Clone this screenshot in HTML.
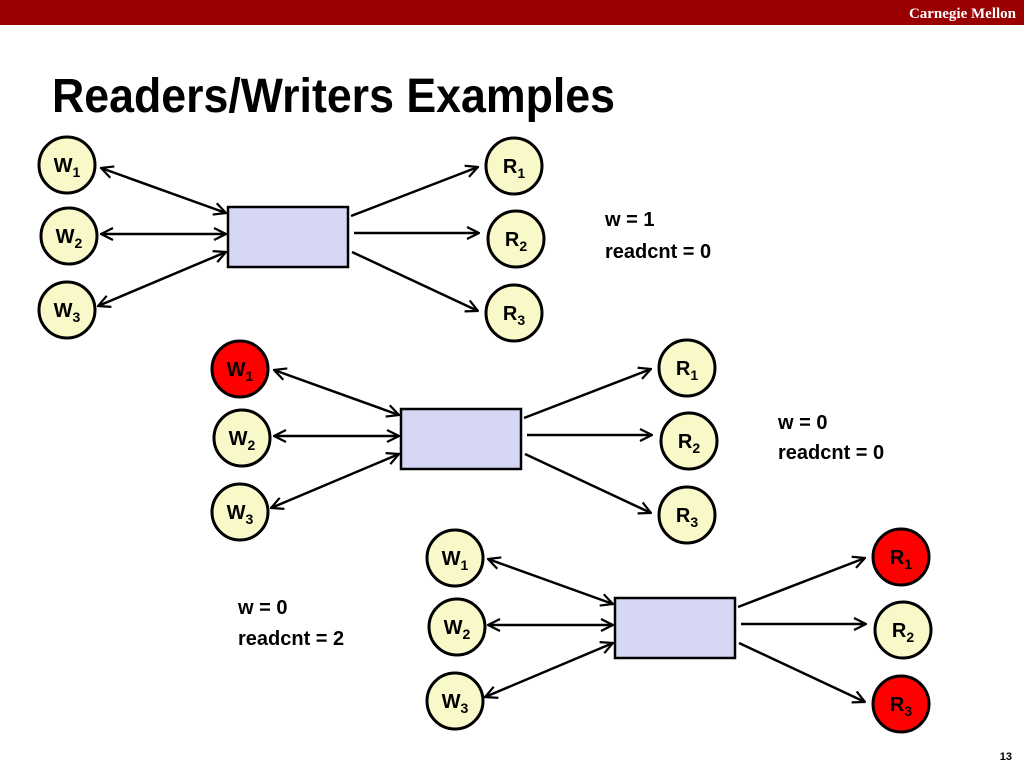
<!DOCTYPE html>
<html><head><style>
body{margin:0;width:1024px;height:768px;overflow:hidden;background:#fff;font-family:"Liberation Sans",sans-serif;}
</style></head><body>
<svg width="1024" height="768" xmlns="http://www.w3.org/2000/svg" style="position:absolute;left:0;top:0">
<defs>
<marker id="a" viewBox="0 0 14 14" refX="13" refY="7" markerWidth="14" markerHeight="14" markerUnits="userSpaceOnUse" orient="auto-start-reverse">
<path d="M1,1 L13,7 L1,13" fill="none" stroke="#000" stroke-width="2.2"/></marker>
<g id="grp">
<line x1="101" y1="168" x2="226" y2="213" stroke="#000" stroke-width="2.5" marker-start="url(#a)" marker-end="url(#a)"/>
<line x1="101" y1="234" x2="226" y2="234" stroke="#000" stroke-width="2.5" marker-start="url(#a)" marker-end="url(#a)"/>
<line x1="98" y1="306" x2="226" y2="252" stroke="#000" stroke-width="2.5" marker-start="url(#a)" marker-end="url(#a)"/>
<line x1="351" y1="216" x2="478" y2="167" stroke="#000" stroke-width="2.5" marker-end="url(#a)"/>
<line x1="354" y1="233" x2="479" y2="233" stroke="#000" stroke-width="2.5" marker-end="url(#a)"/>
<line x1="352" y1="252" x2="478" y2="311" stroke="#000" stroke-width="2.5" marker-end="url(#a)"/>
<rect x="228" y="207" width="120" height="60" fill="#d6d6f5" stroke="#000" stroke-width="2.5"/>
</g>
</defs>
<rect x="0" y="0" width="1024" height="25" fill="#990000"/>
<text x="1016" y="18" text-anchor="end" font-family="Liberation Serif,serif" font-size="15" font-weight="bold" fill="#fff">Carnegie Mellon</text>
<text x="52" y="112" font-size="48" font-weight="bold" fill="#000" textLength="563" lengthAdjust="spacingAndGlyphs">Readers/Writers Examples</text>

<use href="#grp"/>
<use href="#grp" transform="translate(173,202)"/>
<use href="#grp" transform="translate(387,391)"/>

<g stroke="#000" stroke-width="3">
<circle cx="67" cy="165" r="28" fill="#f8f8c8"/><circle cx="69" cy="236" r="28" fill="#f8f8c8"/><circle cx="67" cy="310" r="28" fill="#f8f8c8"/>
<circle cx="514" cy="166" r="28" fill="#f8f8c8"/><circle cx="516" cy="239" r="28" fill="#f8f8c8"/><circle cx="514" cy="313" r="28" fill="#f8f8c8"/>
<circle cx="240" cy="369" r="28" fill="#ff0000"/><circle cx="242" cy="438" r="28" fill="#f8f8c8"/><circle cx="240" cy="512" r="28" fill="#f8f8c8"/>
<circle cx="687" cy="368" r="28" fill="#f8f8c8"/><circle cx="689" cy="441" r="28" fill="#f8f8c8"/><circle cx="687" cy="515" r="28" fill="#f8f8c8"/>
<circle cx="455" cy="558" r="28" fill="#f8f8c8"/><circle cx="457" cy="627" r="28" fill="#f8f8c8"/><circle cx="455" cy="701" r="28" fill="#f8f8c8"/>
<circle cx="901" cy="557" r="28" fill="#ff0000"/><circle cx="903" cy="630" r="28" fill="#f8f8c8"/><circle cx="901" cy="704" r="28" fill="#ff0000"/>
</g>
<g font-weight="bold" font-size="20" text-anchor="middle" fill="#000">
<text x="67" y="172">W<tspan font-size="14" dy="5">1</tspan></text>
<text x="69" y="243">W<tspan font-size="14" dy="5">2</tspan></text>
<text x="67" y="317">W<tspan font-size="14" dy="5">3</tspan></text>
<text x="514" y="173">R<tspan font-size="14" dy="5">1</tspan></text>
<text x="516" y="246">R<tspan font-size="14" dy="5">2</tspan></text>
<text x="514" y="320">R<tspan font-size="14" dy="5">3</tspan></text>

<text x="240" y="376">W<tspan font-size="14" dy="5">1</tspan></text>
<text x="242" y="445">W<tspan font-size="14" dy="5">2</tspan></text>
<text x="240" y="519">W<tspan font-size="14" dy="5">3</tspan></text>
<text x="687" y="375">R<tspan font-size="14" dy="5">1</tspan></text>
<text x="689" y="448">R<tspan font-size="14" dy="5">2</tspan></text>
<text x="687" y="522">R<tspan font-size="14" dy="5">3</tspan></text>

<text x="455" y="565">W<tspan font-size="14" dy="5">1</tspan></text>
<text x="457" y="634">W<tspan font-size="14" dy="5">2</tspan></text>
<text x="455" y="708">W<tspan font-size="14" dy="5">3</tspan></text>
<text x="901" y="564">R<tspan font-size="14" dy="5">1</tspan></text>
<text x="903" y="637">R<tspan font-size="14" dy="5">2</tspan></text>
<text x="901" y="711">R<tspan font-size="14" dy="5">3</tspan></text>
</g>
<g font-size="20" font-weight="bold" fill="#000">
<text x="605" y="226">w = 1</text><text x="605" y="258">readcnt = 0</text>
<text x="778" y="429">w = 0</text><text x="778" y="459">readcnt = 0</text>
<text x="238" y="614">w = 0</text><text x="238" y="645">readcnt = 2</text>
</g>
<text x="1012" y="760" text-anchor="end" font-size="11" font-weight="bold" fill="#000">13</text>
</svg>
</body></html>
